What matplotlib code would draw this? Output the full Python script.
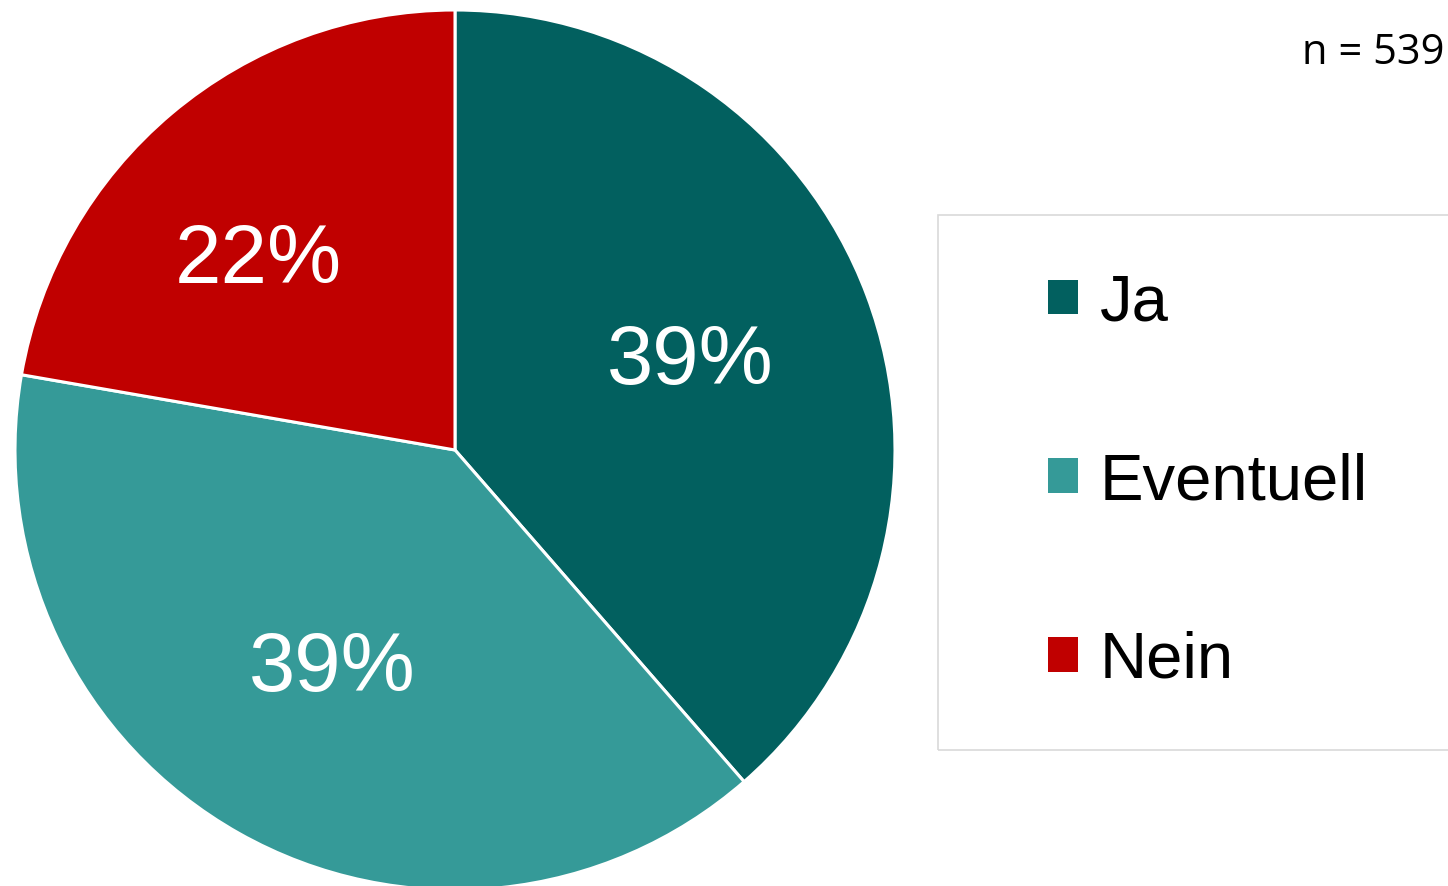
import matplotlib
matplotlib.use("Agg")
import numpy as np
import matplotlib.pyplot as plt
from matplotlib.patches import Patch, Rectangle

# Daten
labels = ["Ja", "Eventuell", "Nein"]
counts = [208, 211, 120]
colors = ["#02605F", "#359A98", "#C00000"]
n_total = "n = 539"

fig = plt.figure(figsize=(14.48, 8.86), dpi=100)
ax = fig.add_axes([15/1448, -4/886, 880/1448, 880/886])

wedges, texts, autotexts = ax.pie(counts, colors=colors, startangle=90, counterclock=False,
	autopct="%1.0f%%", pctdistance=0.57, radius=1,
	wedgeprops=dict(edgecolor="white", linewidth=2.2),
	textprops=dict(color="white", fontsize=60, family="Liberation Sans"))

# Beschriftung "Nein" etwas weiter aussen, wie im Original
w = wedges[2]
ang = np.deg2rad((w.theta1 + w.theta2) / 2 + 6)
autotexts[2].set_position((0.62*np.cos(ang), 0.62*np.sin(ang)))

ax.set_xlim(-1, 1); ax.set_ylim(-1, 1)
ax.set_aspect("equal")

# Rahmen der Legende
fig.patches.append(Rectangle((938/1448, 1 - 750/886), 530/1448, 535/886,
	transform=fig.transFigure, facecolor="none", edgecolor="#D9D9D9", linewidth=1.2))

handles = [Patch(facecolor=c, edgecolor="none") for c in colors]
leg = fig.legend(handles, labels, loc="center left", bbox_to_anchor=(1048/1448, 1 - 482/886),
	frameon=False, prop=dict(family="Liberation Sans", size=47),
	handlelength=0.46, handleheight=0.44, handletextpad=0.33, labelspacing=1.82,
	borderpad=0, borderaxespad=0)

fig.text(1445/1448, 1 - 64/886, n_total, ha="right", va="baseline", fontsize=30, family="Open Sans")

fig.savefig("out.png", dpi=100)
